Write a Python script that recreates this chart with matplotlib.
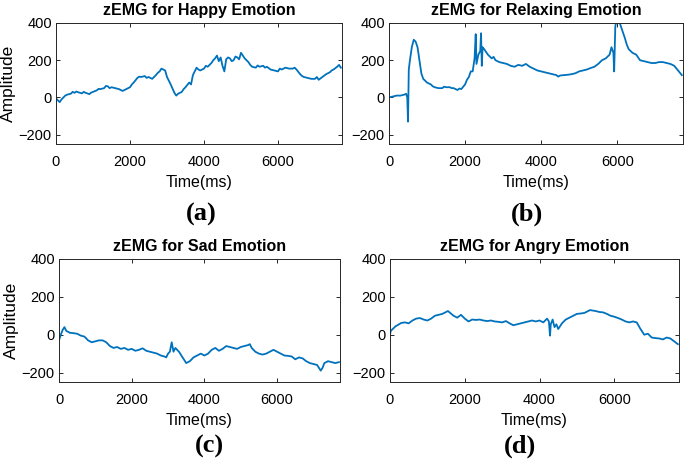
import matplotlib.pyplot as plt

plt.rcParams['font.family'] = ['Liberation Sans', 'DejaVu Sans']

# --- values (time in ms, amplitude) ---
happy_t = [0, 50, 100, 150, 200, 250, 300, 400, 450, 500, 550, 600, 700, 750, 800, 900, 950, 1000,
           1100, 1150, 1200, 1300, 1350, 1400, 1450, 1500, 1600, 1700, 1750, 1800, 1900, 2000, 2050,
           2100, 2200, 2250, 2300, 2400, 2450, 2500, 2600, 2700, 2750, 2800, 2850, 2900, 2950, 3000,
           3100, 3200, 3250, 3300, 3400, 3450, 3500, 3600, 3650, 3700, 3800, 3850, 3900, 4000, 4050,
           4100, 4200, 4250, 4300, 4350, 4400, 4450, 4500, 4550, 4600, 4650, 4700, 4750, 4800, 4850,
           4900, 4950, 5000, 5050, 5100, 5200, 5250, 5300, 5400, 5450, 5500, 5600, 5650, 5700, 5800,
           5900, 6000, 6050, 6100, 6200, 6300, 6400, 6450, 6500, 6600, 6650, 6700, 6800, 6900, 7000,
           7050, 7100, 7200, 7300, 7400, 7450, 7500, 7600, 7650, 7700]
happy_v = [-5, -15, -25, -10, 0, 10, 15, 20, 30, 25, 32, 28, 22, 30, 25, 18, 26, 30, 38, 46, 45, 50,
           62, 60, 50, 55, 50, 45, 40, 35, 45, 55, 70, 80, 105, 112, 110, 115, 105, 110, 100, 120,
           132, 140, 155, 150, 145, 110, 70, 25, 10, 20, 30, 45, 55, 80, 70, 120, 160, 150, 145, 155,
           170, 165, 185, 200, 210, 225, 195, 215, 170, 140, 205, 215, 210, 195, 200, 220, 215, 205,
           240, 225, 210, 190, 175, 165, 160, 172, 165, 170, 160, 165, 150, 145, 140, 155, 150, 160,
           155, 155, 160, 150, 125, 115, 110, 105, 100, 100, 110, 95, 110, 125, 135, 145, 150, 165,
           175, 160]

relax_t = [0, 100, 200, 300, 400, 450, 480, 500, 520, 550, 600, 650, 700, 750, 800, 850, 900, 950,
           1000, 1100, 1150, 1200, 1300, 1400, 1450, 1500, 1600, 1650, 1700, 1800, 1850, 1900, 2000,
           2050, 2100, 2150, 2200, 2250, 2280, 2300, 2350, 2400, 2420, 2440, 2460, 2500, 2550, 2600,
           2700, 2750, 2800, 2900, 3000, 3100, 3200, 3300, 3400, 3500, 3600, 3700, 3800, 3900, 4000,
           4100, 4200, 4300, 4400, 4450, 4500, 4600, 4700, 4800, 4900, 5000, 5100, 5200, 5300, 5400,
           5500, 5600, 5700, 5800, 5850, 5900, 5920, 5950, 5980, 6000, 6050, 6100, 6150, 6200, 6250,
           6300, 6400, 6500, 6550, 6600, 6700, 6800, 6900, 7000, 7100, 7200, 7300, 7400, 7500, 7600,
           7700]
relax_v = [0, 5, 10, 10, 15, 20, 0, -130, 150, 200, 270, 310, 300, 270, 200, 130, 100, 90, 80, 70,
           60, 55, 50, 50, 58, 55, 55, 50, 50, 40, 48, 45, 70, 95, 110, 140, 140, 210, 340, 180, 230,
           250, 345, 170, 270, 260, 245, 230, 210, 218, 200, 190, 185, 180, 170, 165, 175, 170, 180,
           165, 155, 145, 140, 135, 130, 125, 120, 112, 118, 120, 122, 125, 130, 140, 145, 150, 158,
           165, 180, 200, 210, 230, 270, 240, 140, 380, 420, 430, 410, 380, 350, 320, 285, 260, 240,
           230, 215, 200, 195, 190, 185, 185, 190, 190, 185, 180, 170, 145, 120]

sad_t = [0, 50, 100, 150, 200, 300, 400, 500, 600, 700, 800, 900, 1000, 1100, 1200, 1300, 1400,
         1500, 1600, 1700, 1800, 1900, 2000, 2100, 2200, 2300, 2400, 2500, 2600, 2700, 2800, 2900,
         2950, 3000, 3050, 3100, 3150, 3200, 3300, 3400, 3500, 3600, 3700, 3800, 3900, 4000, 4100,
         4200, 4300, 4400, 4500, 4600, 4700, 4800, 4900, 5000, 5100, 5200, 5250, 5300, 5400, 5500,
         5600, 5700, 5800, 5900, 6000, 6100, 6200, 6300, 6400, 6500, 6600, 6700, 6800, 6900, 7000,
         7100, 7200, 7250, 7300, 7400, 7500, 7600, 7700]
sad_v = [-30, 0, 25, 40, 20, 10, 8, 5, -5, -10, -30, -40, -35, -30, -30, -40, -60, -70, -65, -75,
         -70, -80, -75, -85, -80, -72, -85, -90, -95, -100, -110, -115, -120, -100, -90, -40, -90,
         -70, -90, -120, -150, -140, -120, -110, -100, -110, -100, -80, -70, -85, -75, -60, -65,
         -70, -75, -65, -60, -55, -50, -70, -90, -100, -105, -100, -90, -80, -90, -100, -110, -112,
         -115, -130, -120, -125, -140, -150, -155, -160, -190, -175, -150, -140, -145, -150, -145]

angry_t = [0, 20, 100, 150, 200, 300, 400, 500, 600, 700, 800, 900, 1000, 1100, 1200, 1300, 1400,
           1550, 1700, 1800, 1900, 2000, 2100, 2200, 2300, 2400, 2500, 2600, 2700, 2800, 2900, 3000,
           3100, 3200, 3300, 3400, 3500, 3600, 3700, 3800, 3900, 4000, 4100, 4200, 4250, 4280, 4300,
           4350, 4400, 4450, 4500, 4600, 4700, 4800, 4900, 5000, 5100, 5200, 5350, 5500, 5600, 5700,
           5800, 5900, 6000, 6100, 6200, 6300, 6400, 6500, 6600, 6700, 6800, 6900, 7000, 7100, 7200,
           7300, 7400, 7500, 7600, 7700]
angry_v = [0, 20, 35, 45, 50, 62, 65, 60, 75, 85, 88, 80, 75, 85, 100, 105, 110, 125, 100, 90, 105,
           85, 70, 80, 78, 80, 75, 72, 75, 70, 68, 65, 72, 60, 50, 55, 60, 65, 70, 75, 70, 75, 65,
           85, 70, -5, 55, 80, 40, 55, 30, 60, 80, 90, 100, 110, 112, 115, 130, 125, 120, 118, 110,
           100, 95, 88, 80, 70, 65, 70, 65, 30, 0, 5, -15, -18, -20, -25, -15, -20, -35, -50]

titles = ['zEMG for Happy Emotion', 'zEMG for Relaxing Emotion',
          'zEMG for Sad Emotion', 'zEMG for Angry Emotion']
tags = ['(a)', '(b)', '(c)', '(d)']

fig = plt.figure(figsize=(6.85, 4.67), dpi=100)
W, H = 685, 467

# axes boxes in pixels: left, top, right, bottom
boxes = [(56, 23, 342, 144), (389, 23, 683, 144), (59, 259, 340, 382), (390, 259, 679, 382)]
tag_pos = [(201, 214), (527, 214), (209, 446), (520, 446)]
series = [(happy_t, happy_v), (relax_t, relax_v), (sad_t, sad_v), (angry_t, angry_v)]

for i, (l, t, r, b) in enumerate(boxes):
    ax = fig.add_axes([l / W, 1 - b / H, (r - l) / W, (b - t) / H])
    x, y = series[i]
    ax.plot(x, y, color='#0072BD', linewidth=1.3)
    ax.set_xlim(0, 7730)
    ax.set_ylim(-250, 400)
    ax.set_xticks([0, 2000, 4000, 6000])
    ax.set_yticks([-200, 0, 200, 400])
    ax.tick_params(direction='in', length=3, width=0.7, top=True, right=True,
                   labelsize=10.5, colors='#262626', labelcolor='black', pad=3)
    ax.tick_params(axis='x', pad=8)
    for s in ax.spines.values():
        s.set_linewidth(0.7)
        s.set_color('#262626')
    ax.set_title(titles[i], fontsize=11.5, fontweight='bold', pad=6)
    ax.set_xlabel('Time(ms)', fontsize=11.5, labelpad=4)
    if i % 2 == 0:
        ax.set_ylabel('Amplitude', fontsize=12.5, labelpad=2)
    fig.text(tag_pos[i][0] / W, 1 - tag_pos[i][1] / H, tags[i], ha='center', va='center',
             fontsize=19, fontweight='bold', family='Liberation Serif')

fig.savefig('out.png', dpi=100)
